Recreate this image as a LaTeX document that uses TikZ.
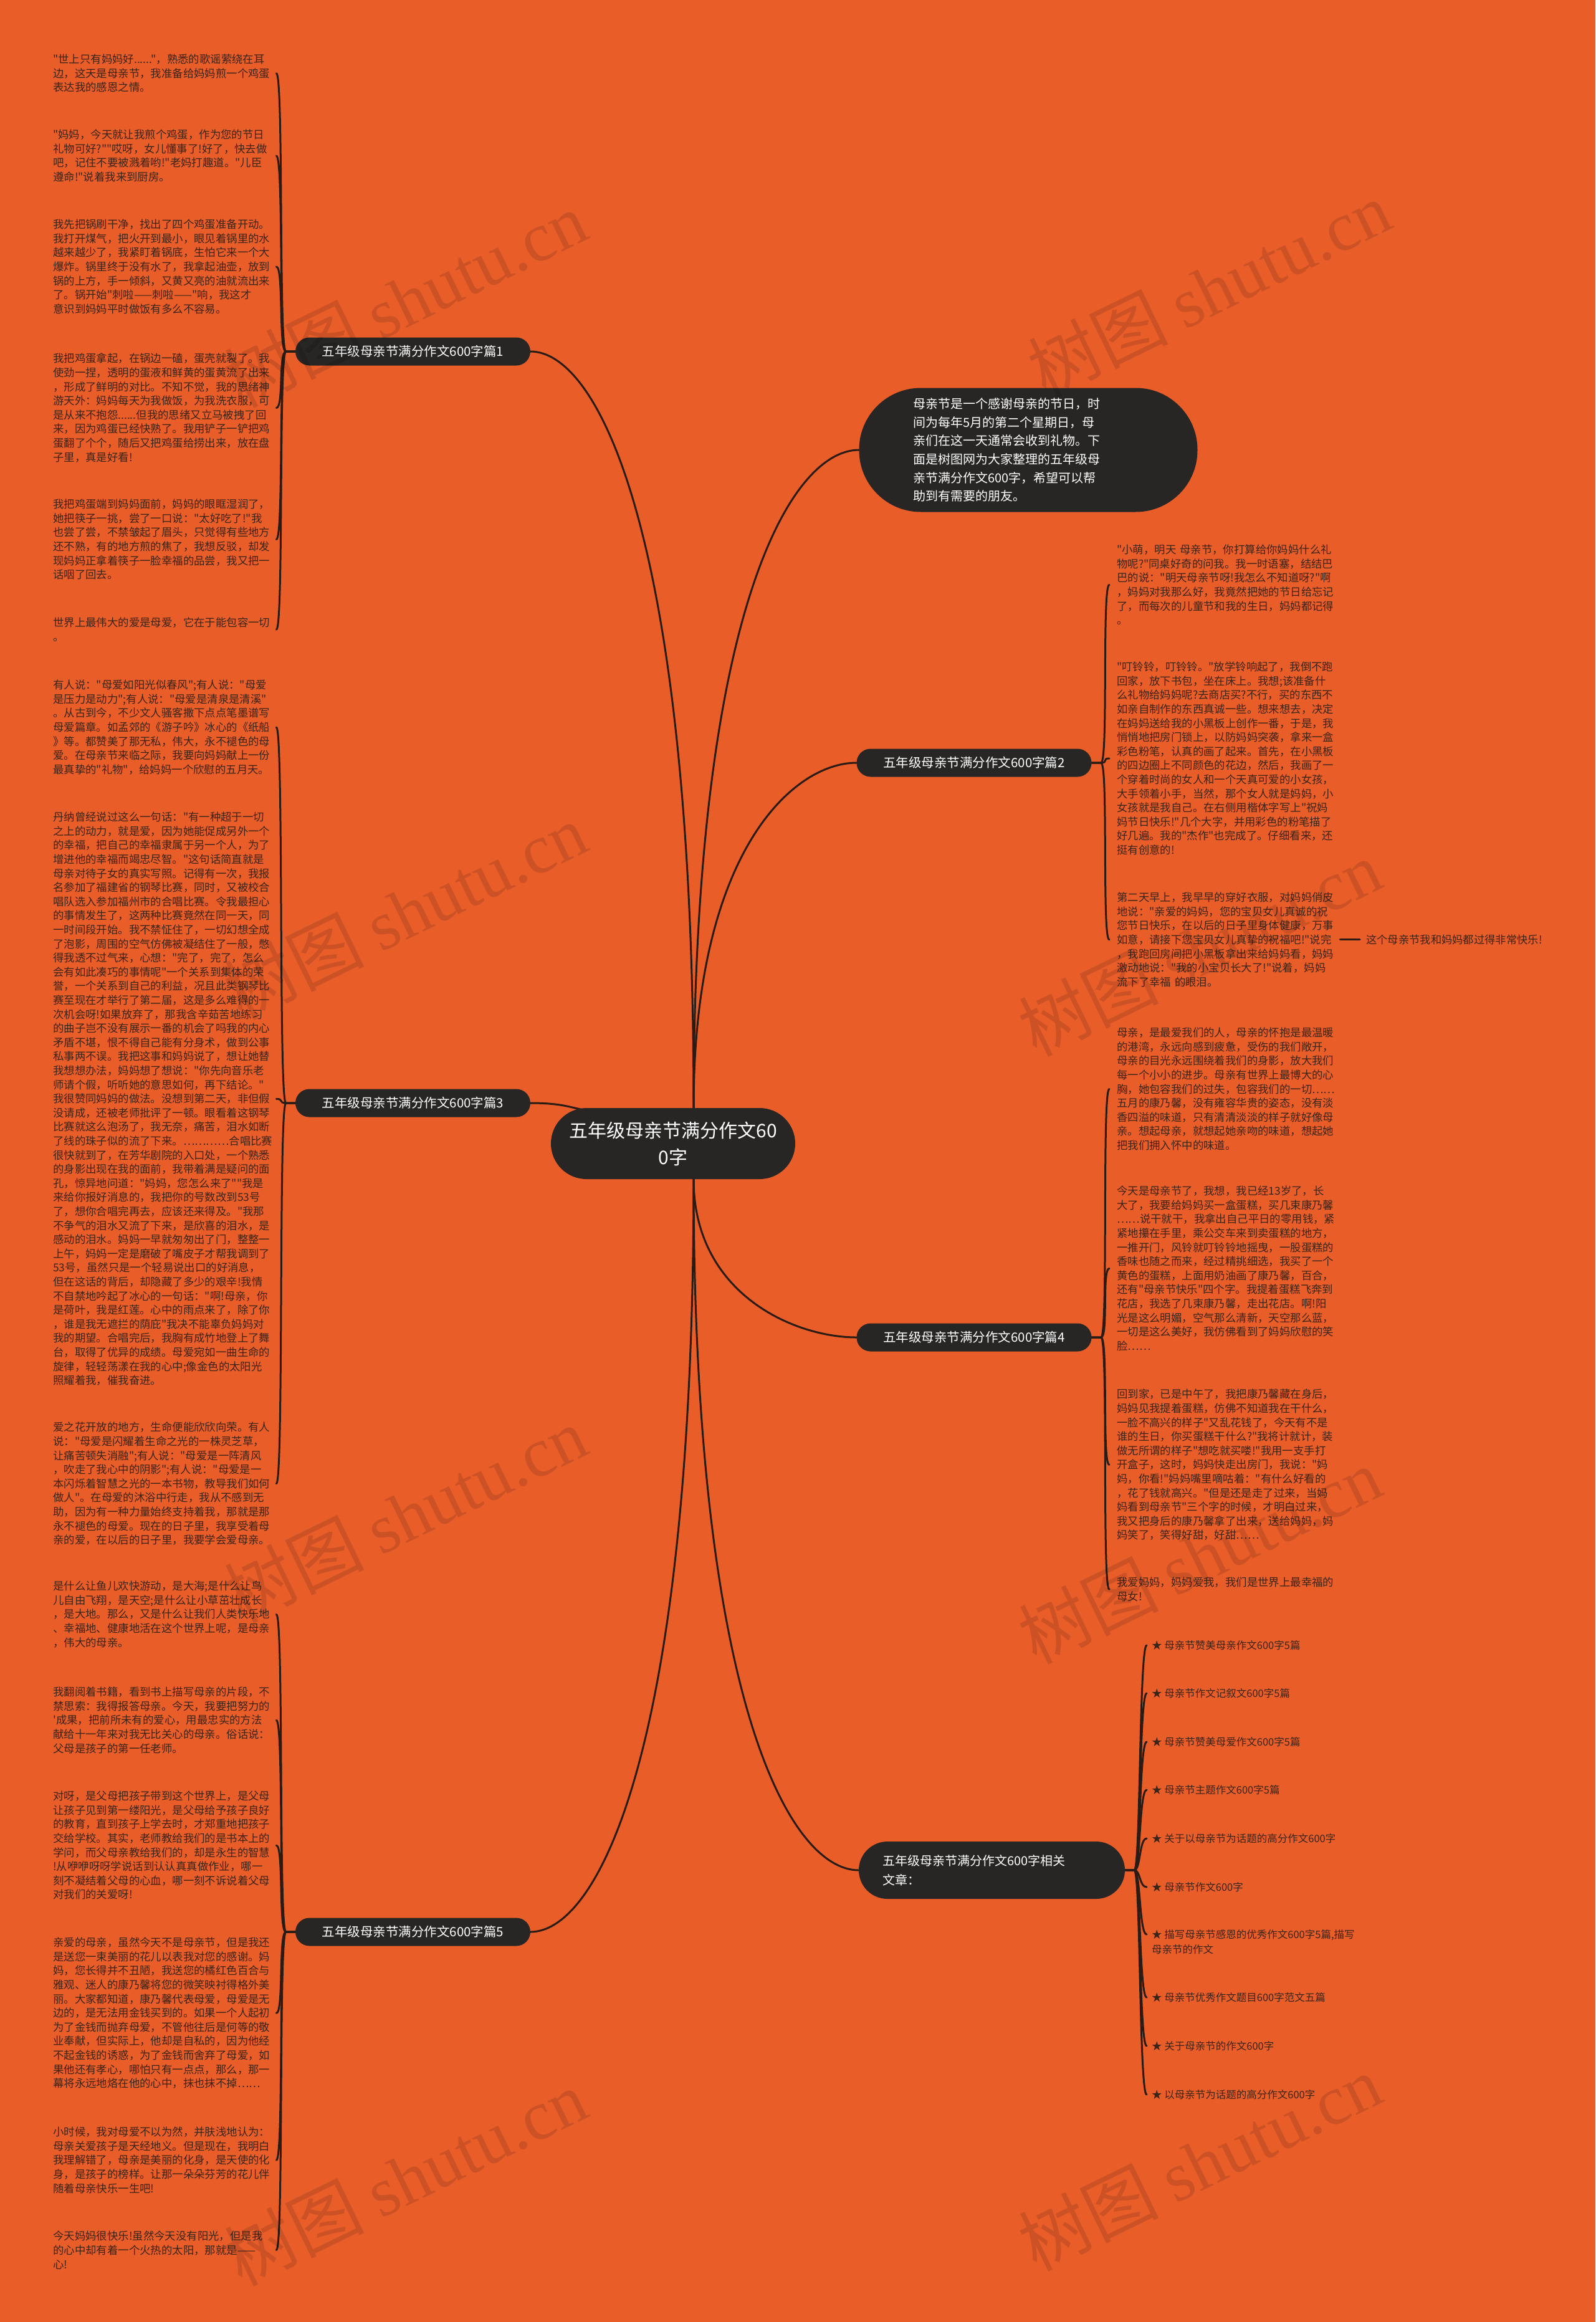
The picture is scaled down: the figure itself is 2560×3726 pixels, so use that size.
\documentclass[tikz,border=0pt]{standalone}
\usepackage{fontspec}
\setmainfont{Noto Sans CJK SC}[Ligatures=TeXOff]
\newfontfamily\wmserif{Liberation Serif}
\usetikzlibrary{calc}
\definecolor{bgor}{HTML}{E95D29}
\definecolor{pillc}{HTML}{272625}
\definecolor{linec}{HTML}{2A1C14}
\definecolor{txtc}{HTML}{3A2519}
\pgfdeclarelayer{bg}
\pgfdeclarelayer{lines}
\pgfsetlayers{bg,lines,main}
\tikzset{
 blk/.style={anchor=north west, yshift=8.2pt, inner sep=0pt, text width=352pt, align=left, text=txtc, font=\fontsize{17.4pt}{22.6pt}\selectfont},
 item/.style={anchor=north west, yshift=7.8pt, inner sep=0pt, align=left, text=txtc, font=\fontsize{16.5pt}{24pt}\selectfont},
 pill/.style={fill=pillc, text=white, inner sep=0pt, font=\fontsize{20.5pt}{31pt}\selectfont},
 sub/.style={pill, minimum width=377pt, minimum height=45pt, rounded corners=22.5pt},
 conn/.style={draw=linec, line width=3pt, line cap=round},
 wm/.style={rotate=26, text=black, opacity=0.12, inner sep=0pt, font=\fontsize{112pt}{116pt}\selectfont}
}
\begin{document}
\begin{tikzpicture}[x=1pt,y=-1pt]
\begin{pgfonlayer}{bg}
\fill[bgor] (0,0) rectangle (2560,3726);
\end{pgfonlayer}
\useasboundingbox (0,0) rectangle (2560,3726);

% ---------- central and branch nodes ----------
\node[pill, minimum width=392pt, minimum height=114pt, rounded corners=57pt, align=center, font=\fontsize{30pt}{43pt}\selectfont] (c) at (1080,1835) {五年级母亲节满分作文60\\0字};

\node[pill, minimum width=543pt, minimum height=199pt, rounded corners=99pt, text width=370pt, align=left, font=\fontsize{20pt}{29.6pt}\selectfont] (intro) at (1650,722) {母亲节是一个感谢母亲的节日，时\\间为每年5月的第二个星期日，母\\亲们在这一天通常会收到礼物。下\\面是树图网为大家整理的五年级母\\亲节满分作文600字，希望可以帮\\助到有需要的朋友。};

\node[sub] (p1) at (662.5,564) {五年级母亲节满分作文600字篇1};
\node[sub] (p3) at (662.5,1770) {五年级母亲节满分作文600字篇3};
\node[sub] (p5) at (662.5,3100) {五年级母亲节满分作文600字篇5};
\node[sub] (p2) at (1563,1224) {五年级母亲节满分作文600字篇2};
\node[sub] (p4) at (1563,2146) {五年级母亲节满分作文600字篇4};
\node[pill, minimum width=427pt, minimum height=92pt, rounded corners=46pt, text width=350pt, align=left, font=\fontsize{20pt}{31pt}\selectfont] (rel) at (1591.5,3001) {五年级母亲节满分作文600字相关\\文章：};

% ---------- left text blocks ----------
\node[blk] (L1) at (85,95) {"世上只有妈妈好......"，熟悉的歌谣萦绕在耳\\边，这天是母亲节，我准备给妈妈煎一个鸡蛋\\表达我的感恩之情。};
\node[blk] (L2) at (85,216) {"妈妈，今天就让我煎个鸡蛋，作为您的节日\\礼物可好?""哎呀，女儿懂事了!好了，快去做\\吧，记住不要被溅着哟!"老妈打趣道。"儿臣\\遵命!"说着我来到厨房。};
\node[blk] (L3) at (85,360) {我先把锅刷干净，找出了四个鸡蛋准备开动。\\我打开煤气，把火开到最小，眼见着锅里的水\\越来越少了，我紧盯着锅底，生怕它来一个大\\爆炸。锅里终于没有水了，我拿起油壶，放到\\锅的上方，手一倾斜，又黄又亮的油就流出来\\了。锅开始"刺啦——刺啦——"响，我这才\\意识到妈妈平时做饭有多么不容易。};
\node[blk] (L4) at (85,575) {我把鸡蛋拿起，在锅边一磕，蛋壳就裂了。我\\使劲一捏，透明的蛋液和鲜黄的蛋黄流了出来\\，形成了鲜明的对比。不知不觉，我的思绪神\\游天外：妈妈每天为我做饭，为我洗衣服，可\\是从来不抱怨......但我的思绪又立马被拽了回\\来，因为鸡蛋已经快熟了。我用铲子一铲把鸡\\蛋翻了个个，随后又把鸡蛋给捞出来，放在盘\\子里，真是好看!};
\node[blk] (L5) at (85,809) {我把鸡蛋端到妈妈面前，妈妈的眼眶湿润了，\\她把筷子一挑，尝了一口说："太好吃了!"我\\也尝了尝，不禁皱起了眉头，只觉得有些地方\\还不熟，有的地方煎的焦了，我想反驳，却发\\现妈妈正拿着筷子一脸幸福的品尝，我又把一\\话咽了回去。};
\node[blk] (L6) at (85,999) {世界上最伟大的爱是母爱，它在于能包容一切\\。};

\node[blk] (L7) at (85,1099) {有人说："母爱如阳光似春风";有人说："母爱\\是压力是动力";有人说："母爱是清泉是清溪"\\。从古到今，不少文人骚客撒下点点笔墨谱写\\母爱篇章。如孟郊的《游子吟》冰心的《纸船\\》等。都赞美了那无私，伟大，永不褪色的母\\爱。在母亲节来临之际，我要向妈妈献上一份\\最真挚的"礼物"，给妈妈一个欣慰的五月天。};
\node[blk] (L8) at (85,1311) {丹纳曾经说过这么一句话："有一种超于一切\\之上的动力，就是爱，因为她能促成另外一个\\的幸福，把自己的幸福隶属于另一个人，为了\\增进他的幸福而竭忠尽智。"这句话简直就是\\母亲对待子女的真实写照。记得有一次，我报\\名参加了福建省的钢琴比赛，同时，又被校合\\唱队选入参加福州市的合唱比赛。令我最担心\\的事情发生了，这两种比赛竟然在同一天，同\\一时间段开始。我不禁怔住了，一切幻想全成\\了泡影，周围的空气仿佛被凝结住了一般，憋\\得我透不过气来，心想："完了，完了，怎么\\会有如此凑巧的事情呢"一个关系到集体的荣\\誉，一个关系到自己的利益，况且此类钢琴比\\赛至现在才举行了第二届，这是多么难得的一\\次机会呀!如果放弃了，那我含辛茹苦地练习\\的曲子岂不没有展示一番的机会了吗我的内心\\矛盾不堪，恨不得自己能有分身术，做到公事\\私事两不误。我把这事和妈妈说了，想让她替\\我想想办法，妈妈想了想说："你先向音乐老\\师请个假，听听她的意思如何，再下结论。"\\我很赞同妈妈的做法。没想到第二天，非但假\\没请成，还被老师批评了一顿。眼看着这钢琴\\比赛就这么泡汤了，我无奈，痛苦，泪水如断\\了线的珠子似的流了下来。…………合唱比赛\\很快就到了，在芳华剧院的入口处，一个熟悉\\的身影出现在我的面前，我带着满是疑问的面\\孔，惊异地问道："妈妈，您怎么来了""我是\\来给你报好消息的，我把你的号数改到53号\\了，想你合唱完再去，应该还来得及。"我那\\不争气的泪水又流了下来，是欣喜的泪水，是\\感动的泪水。妈妈一早就匆匆出了门，整整一\\上午，妈妈一定是磨破了嘴皮子才帮我调到了\\53号，虽然只是一个轻易说出口的好消息，\\但在这话的背后，却隐藏了多少的艰辛!我情\\不自禁地吟起了冰心的一句话："啊!母亲，你\\是荷叶，我是红莲。心中的雨点来了，除了你\\，谁是我无遮拦的荫庇"我决不能辜负妈妈对\\我的期望。合唱完后，我胸有成竹地登上了舞\\台，取得了优异的成绩。母爱宛如一曲生命的\\旋律，轻轻荡漾在我的心中;像金色的太阳光\\照耀着我，催我奋进。};
\node[blk] (L9) at (85,2290) {爱之花开放的地方，生命便能欣欣向荣。有人\\说："母爱是闪耀着生命之光的一株灵芝草，\\让痛苦顿失消融";有人说："母爱是一阵清风\\，吹走了我心中的阴影";有人说："母爱是一\\本闪烁着智慧之光的一本书物，教导我们如何\\做人"。在母爱的沐浴中行走，我从不感到无\\助，因为有一种力量始终支持着我，那就是那\\永不褪色的母爱。现在的日子里，我享受着母\\亲的爱，在以后的日子里，我要学会爱母亲。};

\node[blk] (L10) at (85,2545) {是什么让鱼儿欢快游动，是大海;是什么让鸟\\儿自由飞翔，是天空;是什么让小草茁壮成长\\，是大地。那么，又是什么让我们人类快乐地\\、幸福地、健康地活在这个世界上呢，是母亲\\，伟大的母亲。};
\node[blk] (L11) at (85,2715) {我翻阅着书籍，看到书上描写母亲的片段，不\\禁思索：我得报答母亲。今天，我要把努力的\\'成果，把前所未有的爱心，用最忠实的方法\\献给十一年来对我无比关心的母亲。俗话说：\\父母是孩子的第一任老师。};
\node[blk] (L12) at (85,2882) {对呀，是父母把孩子带到这个世界上，是父母\\让孩子见到第一缕阳光，是父母给予孩子良好\\的教育，直到孩子上学去时，才郑重地把孩子\\交给学校。其实，老师教给我们的是书本上的\\学问，而父母亲教给我们的，却是永生的智慧\\!从咿咿呀呀学说话到认认真真做作业，哪一\\刻不凝结着父母的心血，哪一刻不诉说着父母\\对我们的关爱呀!};
\node[blk] (L13) at (85,3117) {亲爱的母亲，虽然今天不是母亲节，但是我还\\是送您一束美丽的花儿以表我对您的感谢。妈\\妈，您长得并不丑陋，我送您的橘红色百合与\\雅观、迷人的康乃馨将您的微笑映衬得格外美\\丽。大家都知道，康乃馨代表母爱，母爱是无\\边的，是无法用金钱买到的。如果一个人起初\\为了金钱而抛弃母爱，不管他往后是何等的敬\\业奉献，但实际上，他却是自私的，因为他经\\不起金钱的诱惑，为了金钱而舍弃了母爱，如\\果他还有孝心，哪怕只有一点点，那么，那一\\幕将永远地烙在他的心中，抹也抹不掉……};
\node[blk] (L14) at (85,3421) {小时候，我对母爱不以为然，并肤浅地认为：\\母亲关爱孩子是天经地义。但是现在，我明白\\我理解错了，母亲是美丽的化身，是天使的化\\身，是孩子的榜样。让那一朵朵芬芳的花儿伴\\随着母亲快乐一生吧!};
\node[blk] (L15) at (85,3588) {今天妈妈很快乐!虽然今天没有阳光，但是我\\的心中却有着一个火热的太阳，那就是——\\心!};

% ---------- right text blocks ----------
\node[blk] (R1) at (1792,882) {"小萌，明天~母亲节，你打算给你妈妈什么礼\\物呢?"同桌好奇的问我。我一时语塞，结结巴\\巴的说："明天母亲节呀!我怎么不知道呀?"啊\\，妈妈对我那么好，我竟然把她的节日给忘记\\了，而每次的儿童节和我的生日，妈妈都记得\\。};
\node[blk] (R2) at (1792,1070) {"叮铃铃，叮铃铃。"放学铃响起了，我倒不跑\\回家，放下书包，坐在床上。我想;该准备什\\么礼物给妈妈呢?去商店买?不行，买的东西不\\如亲自制作的东西真诚一些。想来想去，决定\\在妈妈送给我的小黑板上创作一番，于是，我\\悄悄地把房门锁上，以防妈妈突袭，拿来一盒\\彩色粉笔，认真的画了起来。首先，在小黑板\\的四边圈上不同颜色的花边，然后，我画了一\\个穿着时尚的女人和一个天真可爱的小女孩，\\大手领着小手，当然，那个女人就是妈妈，小\\女孩就是我自己。在右侧用楷体字写上"祝妈\\妈节日快乐!"几个大字，并用彩色的粉笔描了\\好几遍。我的"杰作"也完成了。仔细看来，还\\挺有创意的!};
\node[blk] (R3) at (1792,1440) {第二天早上，我早早的穿好衣服，对妈妈俏皮\\地说："亲爱的妈妈，您的宝贝女儿真诚的祝\\您节日快乐，在以后的日子里身体健康，万事\\如意，请接下您宝贝女儿真挚的祝福吧!"说完\\，我跑回房间把小黑板拿出来给妈妈看，妈妈\\激动地说："我的小宝贝长大了!"说着，妈妈\\流下了幸福~的眼泪。};
\node[anchor=west, inner sep=0pt, text=txtc, font=\fontsize{17.3pt}{22pt}\selectfont] (K) at (2192,1508) {这个母亲节我和妈妈都过得非常快乐!};

\node[blk] (R4) at (1792,1657) {母亲，是最爱我们的人，母亲的怀抱是最温暖\\的港湾，永远向感到疲惫，受伤的我们敞开，\\母亲的目光永远围绕着我们的身影，放大我们\\每一个小小的进步。母亲有世界上最博大的心\\胸，她包容我们的过失，包容我们的一切……\\五月的康乃馨，没有雍容华贵的姿态，没有淡\\香四溢的味道，只有清清淡淡的样子就好像母\\亲。想起母亲，就想起她亲吻的味道，想起她\\把我们拥入怀中的味道。};
\node[blk] (R5) at (1792,1911) {今天是母亲节了，我想，我已经13岁了，长\\大了，我要给妈妈买一盒蛋糕，买几束康乃馨\\……说干就干，我拿出自己平日的零用钱，紧\\紧地攥在手里，乘公交车来到卖蛋糕的地方，\\一推开门，风铃就叮铃铃地摇曳，一股蛋糕的\\香味也随之而来，经过精挑细选，我买了一个\\黄色的蛋糕，上面用奶油画了康乃馨，百合，\\还有"母亲节快乐"四个字。我提着蛋糕飞奔到\\花店，我选了几束康乃馨，走出花店。啊!阳\\光是这么明媚，空气那么清新，天空那么蓝，\\一切是这么美好，我仿佛看到了妈妈欣慰的笑\\脸……};
\node[blk] (R6) at (1792,2237) {回到家，已是中午了，我把康乃馨藏在身后，\\妈妈见我提着蛋糕，仿佛不知道我在干什么，\\一脸不高兴的样子"又乱花钱了，今天有不是\\谁的生日，你买蛋糕干什么?"我将计就计，装\\做无所谓的样子"想吃就买喽!"我用一支手打\\开盒子，这时，妈妈快走出房门，我说："妈\\妈，你看!"妈妈嘴里嘀咕着："有什么好看的\\，花了钱就高兴。"但是还是走了过来，当妈\\妈看到母亲节"三个字的时候，才明白过来，\\我又把身后的康乃馨拿了出来，送给妈妈，妈\\妈笑了，笑得好甜，好甜……};
\node[blk] (R7) at (1792,2539) {我爱妈妈，妈妈爱我，我们是世界上最幸福的\\母女!};

% ---------- related articles ----------
\node[item] (I1) at (1848,2640) {★ 母亲节赞美母亲作文600字5篇};
\node[item] (I2) at (1848,2717) {★ 母亲节作文记叙文600字5篇};
\node[item] (I3) at (1848,2795) {★ 母亲节赞美母爱作文600字5篇};
\node[item] (I4) at (1848,2872) {★ 母亲节主题作文600字5篇};
\node[item] (I5) at (1848,2950) {★ 关于以母亲节为话题的高分作文600字};
\node[item] (I6) at (1848,3028) {★ 母亲节作文600字};
\node[item] (I7) at (1848,3104) {★ 描写母亲节感恩的优秀作文600字5篇,描写\\母亲节的作文};
\node[item] (I8) at (1848,3205) {★ 母亲节优秀作文题目600字范文五篇};
\node[item] (I9) at (1848,3283) {★ 关于母亲节的作文600字};
\node[item] (I10) at (1848,3361) {★ 以母亲节为话题的高分作文600字};

% ---------- connectors ----------
\begin{pgfonlayer}{lines}
\coordinate (cu) at ([xshift=33pt]c.north);
\coordinate (cd) at ([xshift=33pt]c.south);
\coordinate (cl) at ([xshift=-110pt,yshift=-6pt]c.north);
\draw[conn] (cu) .. controls ($(cu |- p1.east)+(0,300)$) and ($(p1.east)+(110,0)$) .. (p1.east);
\draw[conn] (cu) .. controls ($(cu |- intro.west)+(0,260)$) and ($(intro.west)+(-110,0)$) .. (intro.west);
\draw[conn] (cu) .. controls ($(cu |- p2.west)+(0,140)$) and ($(p2.west)+(-100,0)$) .. (p2.west);
\draw[conn] (p3.east) .. controls +(70,0) and +(-50,0) .. (cl);
\draw[conn] (cd) .. controls ($(cd |- p4.west)+(0,-70)$) and ($(p4.west)+(-100,0)$) .. (p4.west);
\draw[conn] (cd) .. controls ($(cd |- rel.west)+(0,-270)$) and ($(rel.west)+(-110,0)$) .. (rel.west);
\draw[conn] (cd) .. controls ($(cd |- p5.east)+(0,-300)$) and ($(p5.east)+(110,0)$) .. (p5.east);

\foreach \b in {L1,L2,L3,L4,L5,L6}
  \draw[conn] (p1.west) -- ++(-15,0) .. controls +(-12,0) and +(12,0) .. ([xshift=6pt]\b.east);
\foreach \b in {L7,L8,L9}
  \draw[conn] (p3.west) -- ++(-15,0) .. controls +(-12,0) and +(12,0) .. ([xshift=6pt]\b.east);
\foreach \b in {L10,L11,L12,L13,L14,L15}
  \draw[conn] (p5.west) -- ++(-15,0) .. controls +(-12,0) and +(12,0) .. ([xshift=6pt]\b.east);
\foreach \b in {R1,R2,R3}
  \draw[conn] (p2.east) -- ++(15,0) .. controls +(12,0) and +(-12,0) .. ([xshift=-12pt]\b.west);
\foreach \b in {R4,R5,R6,R7}
  \draw[conn] (p4.east) -- ++(15,0) .. controls +(12,0) and +(-12,0) .. ([xshift=-12pt]\b.west);
\foreach \b in {I1,I2,I3,I4,I5,I6,I8,I9,I10}
  \draw[conn] (rel.east) -- ++(15,0) .. controls +(10,0) and +(-12,0) .. ([xshift=-8pt]\b.west);
\draw[conn] (rel.east) -- ++(15,0) .. controls +(10,0) and +(-12,0) .. ([xshift=-8pt,yshift=12pt]I7.west);
\draw[conn] ([xshift=6pt]R3.east) -- ([xshift=-10pt]R3.east -| K.west);
\end{pgfonlayer}

% ---------- watermarks ----------
\node[wm] (w1) at (650,480) {树图 {\wmserif shutu.cn}};
\node[wm] (w2) at (1940,463) {树图 {\wmserif shutu.cn}};
\node[wm] (w3) at (650,1462) {树图 {\wmserif shutu.cn}};
\node[wm] (w4) at (1925,1521) {树图 {\wmserif shutu.cn}};
\node[wm] (w5) at (650,2430) {树图 {\wmserif shutu.cn}};
\node[wm] (w6) at (1925,2496) {树图 {\wmserif shutu.cn}};
\node[wm] (w7) at (650,3494) {树图 {\wmserif shutu.cn}};
\node[wm] (w8) at (1925,3470) {树图 {\wmserif shutu.cn}};
\end{tikzpicture}
\end{document}
